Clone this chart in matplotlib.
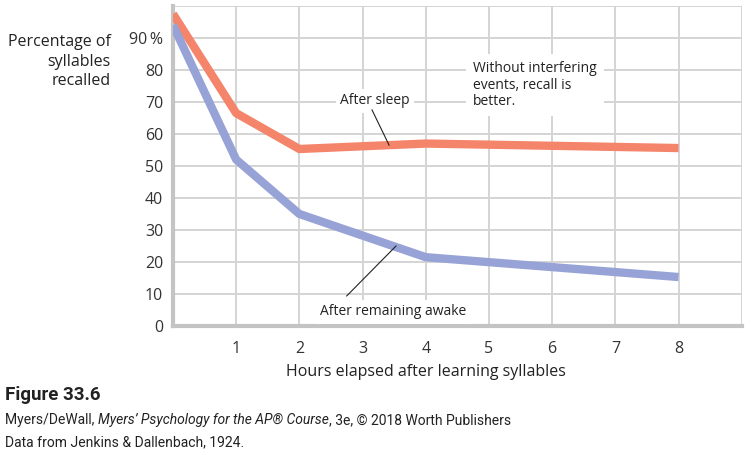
import matplotlib
matplotlib.use("Agg")
import matplotlib.pyplot as plt

plt.rcParams['font.family'] = ['Open Sans', 'DejaVu Sans']

hours = [0, 1, 2, 4, 8]
after_sleep = [97.5, 66.5, 55.3, 57.0, 55.6]
after_awake = [94.0, 52.0, 35.0, 21.5, 15.3]
yticks = [0, 10, 20, 30, 40, 50, 60, 70, 80, 90]
ytick_labels = ['0', '10', '20', '30', '40', '50', '60', '70', '80', '90\u2009%']
xticks = [1, 2, 3, 4, 5, 6, 7, 8]

orange = '#f4846a'
blue = '#97a3d6'
grid_c = '#d4d4d4'

fig = plt.figure(figsize=(7.53, 4.55), dpi=100)
ax = fig.add_axes([0.2297, 0.2835, 0.7553, 0.7035])

ax.plot(hours, after_sleep, color=orange, lw=6, solid_capstyle='butt', zorder=3)
ax.plot(hours, after_awake, color=blue, lw=6, solid_capstyle='butt', zorder=3)

ax.set_xlim(0, 9)
ax.set_ylim(0, 100)
ax.set_xticks(xticks)
ax.set_yticks(yticks)
ax.set_yticklabels(ytick_labels)
ax.tick_params(length=0, labelsize=11.5, labelcolor='#333333', pad=7)
ax.tick_params(axis='x', pad=11)
for x in xticks + [9]:
    ax.axvline(x, color=grid_c, lw=1.4, zorder=1)
for y in yticks[1:] + [100]:
    ax.axhline(y, color=grid_c, lw=1.4, zorder=1)
for s in ['top', 'right']:
    ax.spines[s].set_visible(False)
for s in ['left', 'bottom']:
    ax.spines[s].set_color('#c4c4c4')
    ax.spines[s].set_linewidth(3)

ax.set_xlabel('Hours elapsed after learning syllables', fontsize=11.5,
              color='#222222')
ax.xaxis.set_label_coords(4 / 9, -0.12)
fig.text(0.147, 0.925, 'Percentage of\nsyllables\nrecalled', ha='right', va='top',
         fontsize=11.5, color='#222222', linespacing=1.3)

box = dict(facecolor='white', edgecolor='none', pad=3)
ax.text(3.2, 70.3, 'After sleep', ha='center', va='center', fontsize=10,
        color='#222222', bbox=box, zorder=4)
ax.plot([3.15, 3.42], [67.5, 56.5], color='#222222', lw=0.8, zorder=4)
ax.text(4.75, 82.8, 'Without interfering\nevents, recall is\nbetter.', ha='left',
        va='top', fontsize=10, color='#222222',
        bbox=dict(facecolor='white', edgecolor='none', pad=5), linespacing=1.15, zorder=4)
ax.text(3.48, 4.4, 'After remaining awake', ha='center', va='center', fontsize=10,
        color='#222222', bbox=box, zorder=4)
ax.plot([2.75, 3.53], [9.4, 25], color='#222222', lw=0.8, zorder=4)

# caption
cap_font = ['Roboto', 'DejaVu Sans']
fig.text(0.007, 0.121, 'Figure 33.6', fontsize=13.5, fontweight='bold', color='#222222',
         va='baseline', family=cap_font)
parts = [('Myers/DeWall, ', 'normal'), ("Myers\u2019 Psychology for the AP\u00ae Course", 'italic'),
         (', 3e, \u00a9 2018 Worth Publishers', 'normal')]
fig.canvas.draw()
r = fig.canvas.get_renderer()
x0 = 0.007
for txt, st in parts:
    t = fig.text(x0, 0.068, txt, fontsize=10, style=st, color='#222222',
                 va='baseline', family=cap_font)
    bb = t.get_window_extent(renderer=r)
    x0 += bb.width / fig.bbox.width
fig.text(0.007, 0.020, 'Data from Jenkins & Dallenbach, 1924.', fontsize=10,
         color='#222222', va='baseline', family=cap_font)

fig.savefig('out.png', dpi=100)
